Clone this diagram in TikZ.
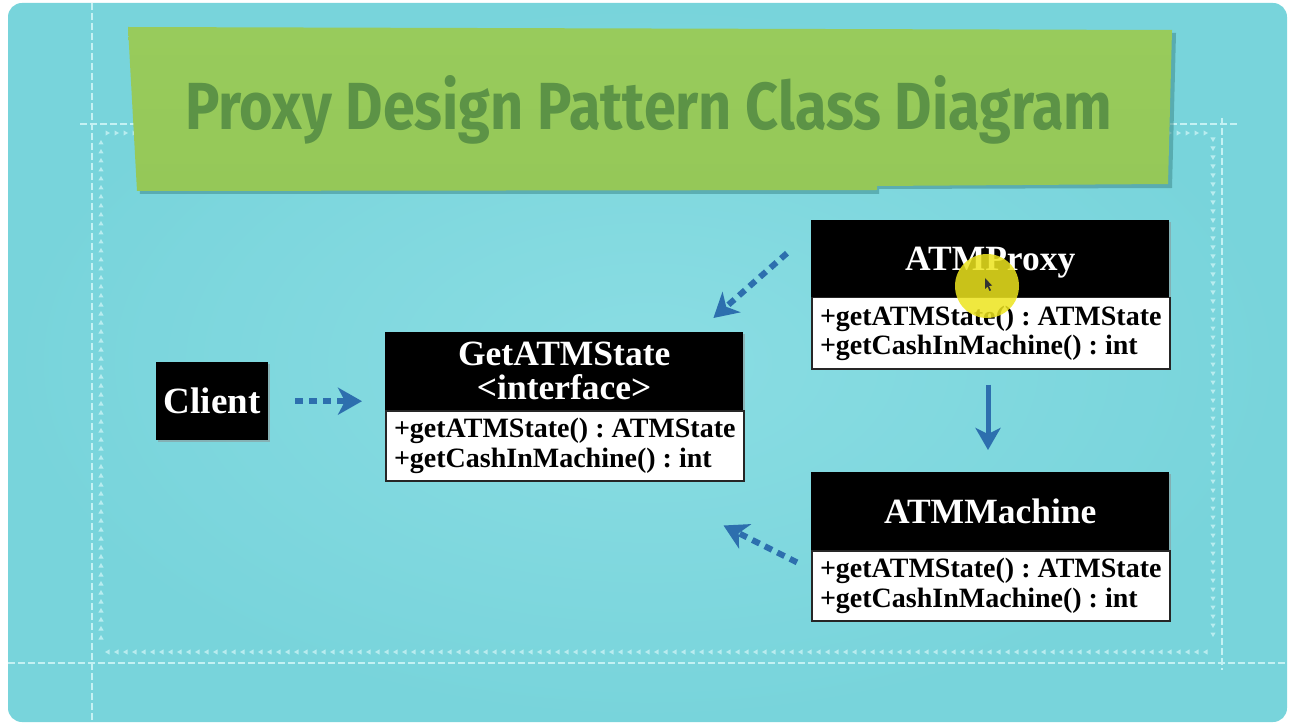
\documentclass[tikz,border=0pt]{standalone}
\usepackage{fontspec}
\setmainfont{Liberation Serif}
\newfontfamily\titlefont{Fira Sans}
\usetikzlibrary{arrows.meta,calc}
\definecolor{panelout}{HTML}{78D4DB}
\definecolor{panelin}{HTML}{8ADDE3}
\definecolor{bannerc}{HTML}{95C858}
\definecolor{bannertop}{HTML}{98CB5C}
\definecolor{titlec}{HTML}{5C9346}
\definecolor{arrowc}{HTML}{2D6FAE}
\definecolor{decoc}{HTML}{C4F1F3}
\definecolor{shadowc}{HTML}{3F8C8E}
\definecolor{hilite}{HTML}{EDE41E}
\begin{document}
\begin{tikzpicture}[x=1pt,y=-1pt,
  deco/.style={draw=decoc, line width=2.2, dash pattern=on 7 off 3},
  tri/.style={fill=decoc, opacity=.85},
  hd/.style={fill=black, text=white, inner sep=0pt, align=center,
     font=\bfseries\fontsize{35.5}{34}\selectfont},
  bodybox/.style={fill=white, draw=black!85, line width=1.5, inner sep=0pt,
     minimum width=358, align=left, minimum height=70, anchor=north west,
     font=\frenchspacing\bfseries\fontsize{28}{29.5}\selectfont},
  dotarrow/.style={draw=arrowc, line width=6, dash pattern=on 8 off 6,
     -{Stealth[length=24,width=27,inset=7]}},
  solidarrow/.style={draw=arrowc, line width=5,
     -{Stealth[length=22,width=25,inset=6]}},
  boxshadow/.style={fill=black!45, opacity=.5}
]
\useasboundingbox (0,0) rectangle (1290,727);
\fill[white] (0,0) rectangle (1290,727);
% panel
\shade[rounded corners=14, inner color=panelin, outer color=panelout] (8,3) rectangle (1287,722);
\begin{scope}
\clip[rounded corners=14] (8,3) rectangle (1287,722);
% outer dashed frame lines
\draw[deco] (92,3) -- (92,722);
\draw[deco] (8,663) -- (1287,663);
\draw[deco] (80,124) -- (1240,124);
\draw[deco] (1222,118) -- (1222,670);
% triangle tracks
\foreach \yy in {140,149,...,642} \fill[tri] (101,\yy) -- ++(-2.6,4.5) -- ++(5.2,0) -- cycle;
\foreach \xx in {105,114,...,1210} \fill[tri] (\xx,652) -- ++(4.5,-2.6) -- ++(0,5.2) -- cycle;
\foreach \yy in {142,151,...,644} \fill[tri] (1213,\yy) -- ++(-2.6,-4.5) -- ++(5.2,0) -- cycle;
\foreach \xx in {110,119,...,1212} \fill[tri] (\xx,133) -- ++(-4.5,-2.6) -- ++(0,5.2) -- cycle;
\end{scope}
% banner
\fill[shadowc, opacity=.55] (131,31) -- (1176,33) -- (1172,188) -- (879,189) -- (879,194) -- (140,194) -- cycle;
\shade[top color=bannertop, bottom color=bannerc] (128,27) -- (1172,30) -- (1168,184) -- (877,186) -- (877,190) -- (137,191) -- cycle;
\node[anchor=base west, inner sep=0pt, text=titlec] (title) at (185,130)
  {\resizebox{927pt}{54pt}{\titlefont\bfseries Proxy Design Pattern Class Diagram}};
% box shadows
\fill[boxshadow] (158,364) rectangle (270,442);
\fill[boxshadow] (387,334) rectangle (745,482);
\fill[boxshadow] (813,222) rectangle (1171,370);
\fill[boxshadow] (813,474) rectangle (1171,622);
% Client
\node[hd, minimum width=112, minimum height=78, anchor=north west, font=\bfseries\fontsize{37}{40}\selectfont] (client) at (156,362) {Client};
% GetATMState
\node[hd, minimum width=358, minimum height=78, anchor=north west] (gashead) at (385,332) {GetATMState\\<interface>};
\node[bodybox] (gasbody) at (385,410) {+getATMState() : ATMState\\+getCashInMachine() : int};
% ATMProxy
\node[hd, minimum width=358, minimum height=77, anchor=north west] (proxyhead) at (811,220) {\raisebox{-4pt}[\height][\depth]{ATMProxy}};
\node[bodybox, minimum height=71] (proxybody) at (811,297) {+getATMState() : ATMState\\+getCashInMachine() : int};
% ATMMachine
\node[hd, minimum width=358, minimum height=78, anchor=north west] (mhead) at (811,472) {ATMMachine};
\node[bodybox] (mbody) at (811,550) {+getATMState() : ATMState\\+getCashInMachine() : int};
% connectors
\draw[dotarrow, shorten <=27, shorten >=23] (client.east) -- (client.east -| gashead.west);
\draw[dotarrow] ($(proxyhead.west)+(-24,-5.5)$) -- ($(gashead.north east)+(-30,-14)$);
\draw[dotarrow] ($(mhead.south west)+(-14,12)$) -- ($(gasbody.south east)+(-21,44)$);
\draw[solidarrow, shorten <=15, shorten >=22] (proxybody.south -| 988,0) -- (mhead.north -| 988,0);
% cursor highlight
\fill[hilite, opacity=.85] (987,286) circle (32);
\fill[black!80] (985,278) -- (985,289) -- (987.5,286.5) -- (989.5,291) -- (991,290.3) -- (989,286) -- (992,285.5) -- cycle;
\end{tikzpicture}
\end{document}
